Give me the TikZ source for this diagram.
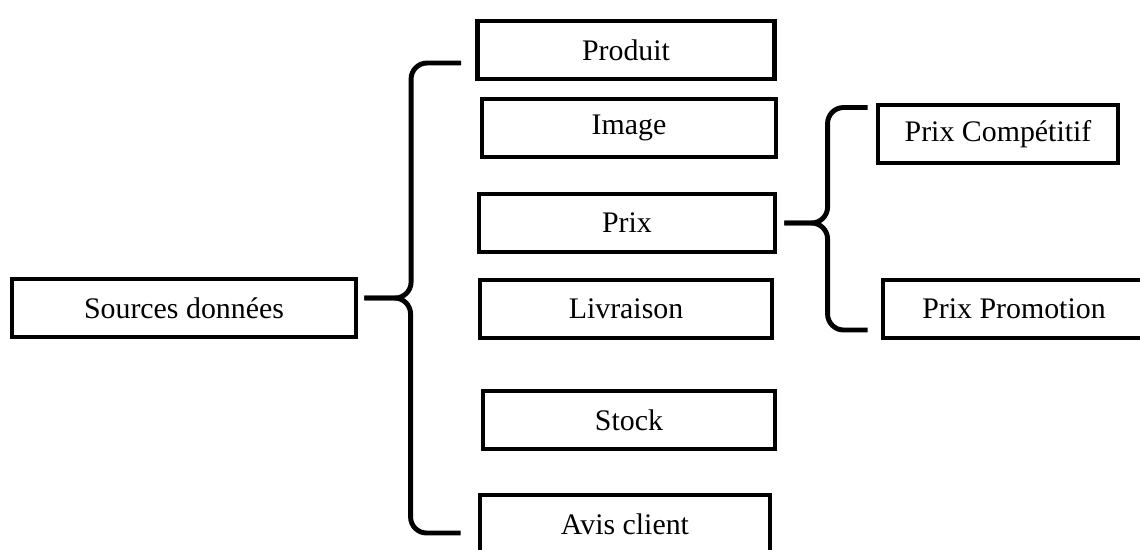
\documentclass[tikz,border=0pt]{standalone}
\usepackage{fontspec}
\setmainfont{Liberation Serif}
\usetikzlibrary{positioning}

\begin{document}
\begin{tikzpicture}[x=0.02cm,y=-0.02cm,
    box/.style={draw,line width=2.8pt,minimum height=1.16cm,inner sep=0pt,
      font=\fontsize{17}{20}\selectfont},
    brace/.style={line width=2.8pt,rounded corners=0.32cm}]
  \useasboundingbox (0,0) rectangle (1140,549);

  \node[box,minimum width=6.88cm] (src) at (184,308) {Sources données};

  \node[box,minimum width=5.94cm] (produit) at (626,50) {Produit};
  \node[box,minimum width=5.88cm] (image) at (629,128) {Image};
  \node[box,minimum width=5.92cm] (prix) at (627,223) {Prix};
  \node[box,minimum width=5.84cm] (livraison) at (626,309) {Livraison};
  \node[box,minimum width=5.84cm] (stock) at (629,420) {Stock};
  \node[box,minimum width=5.80cm] (avis) at (625,524) {Avis client};

  \node[box,minimum width=4.80cm] (compet) at (998,134) {Prix Compétitif};
  \node[box,minimum width=5.24cm] (promo) at (1014,309) {Prix Promotion};

  % accolade gauche
  \coordinate (ltop) at ([xshift=-0.28cm,yshift=-0.26cm]produit.west);
  \coordinate (lbot) at ([xshift=-0.34cm,yshift=-0.18cm]avis.west);
  \draw[brace] ([xshift=0.12cm,yshift=0.2cm]src.east) -| ([xshift=-1cm]ltop) -- (ltop);
  \draw[brace] ([xshift=0.12cm,yshift=0.2cm]src.east) -| ([xshift=-1cm]lbot) -- (lbot);

  % accolade droite
  \coordinate (rtop) at ([xshift=-0.16cm,yshift=0.53cm]compet.west);
  \coordinate (rbot) at ([xshift=-0.26cm,yshift=-0.42cm]promo.west);
  \draw[brace] ([xshift=0.14cm]prix.east) -| ([xshift=-0.8cm]rtop) -- (rtop);
  \draw[brace] ([xshift=0.14cm]prix.east) -| ([xshift=-0.8cm]rbot) -- (rbot);
\end{tikzpicture}
\end{document}
